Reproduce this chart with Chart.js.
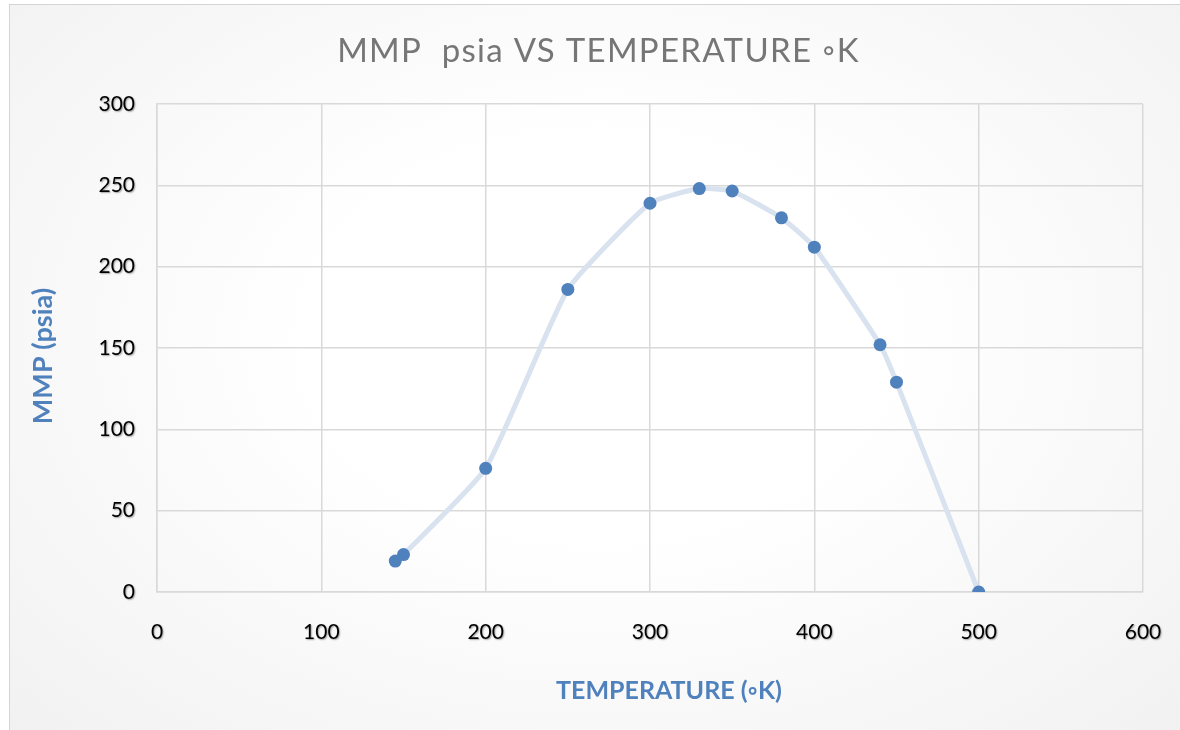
<!DOCTYPE html>
<html>
<head>
<meta charset="utf-8">
<script src="https://cdn.jsdelivr.net/npm/chart.js@4.4.1/dist/chart.umd.min.js"></script>
<style>
  html, body { margin: 0; padding: 0; background: #fff; }
  body { width: 1180px; height: 730px; position: relative; overflow: hidden; }
  #frame {
    position: absolute; left: 9px; top: 4px; width: 1180px; height: 740px;
    border: 1px solid #d4d4d4; box-sizing: border-box;
    background: radial-gradient(ellipse at 50% 45%, #ffffff 35%, #f1f1f1 100%);
  }
  #wrap { position: absolute; left: 0; top: 0; width: 1180px; height: 730px; }
</style>
</head>
<body>
<div id="frame"></div>
<div id="wrap"><canvas id="chart" width="1180" height="730"></canvas></div>
<script>
/* valeurs */
const temperatureK = [145, 150, 200, 250, 300, 330, 350, 380, 400, 440, 450, 500];
const mmpPsia = [19, 23, 76, 186, 239, 248, 246.5, 230, 212, 152, 129, 0];

const BLUE = '#4f81bd';
const GRID = '#d9d9d9';

// petits ajustements de rendu façon Excel : ombre des étiquettes,
// titres d'axes légèrement décalés, titre espacé
const excelLook = {
  id: 'excelLook',
  afterLayout(chart) {
    Object.values(chart.scales).forEach(s => {
      if (s._patched) return;
      const drawLabels = s.drawLabels.bind(s);
      const drawTitle = s.drawTitle.bind(s);
      s.drawLabels = function (area) {
        const ctx = this.ctx;
        ctx.save();
        ctx.shadowColor = 'rgba(0,0,0,.35)';
        ctx.shadowOffsetX = 1;
        ctx.shadowOffsetY = 1;
        ctx.shadowBlur = 1.5;
        drawLabels(area);
        ctx.restore();
      };
      s.drawTitle = function () {
        const ctx = this.ctx;
        ctx.save();
        if (this.axis === 'x') ctx.translate(19, 0);
        else ctx.translate(0, 8);
        drawTitle();
        ctx.restore();
      };
      s._patched = true;
    });
    const tb = chart.titleBlock;
    if (tb && !tb._patched) {
      const draw = tb.draw.bind(tb);
      tb.draw = function () {
        const ctx = this.ctx;
        ctx.save();
        ctx.letterSpacing = '1.3px';
        ctx.translate(17, 0);
        draw();
        ctx.restore();
      };
      tb._patched = true;
    }
  }
};

new Chart(document.getElementById('chart'), {
  type: 'scatter',
  data: {
    datasets: [{
      data: temperatureK.map((t, i) => ({ x: t, y: mmpPsia[i] })),
      showLine: true,
      tension: 0.15,
      borderColor: '#d9e2ef',
      borderWidth: 5,
      pointRadius: 6.5,
      pointHoverRadius: 6.5,
      pointBackgroundColor: BLUE,
      pointBorderColor: BLUE,
      pointBorderWidth: 0
    }]
  },
  options: {
    responsive: false,
    animation: false,
    layout: { padding: { left: 20, right: 37, top: 10, bottom: 20 } },
    plugins: {
      legend: { display: false },
      tooltip: { enabled: false },
      title: {
        display: true,
        text: 'MMP  psia VS TEMPERATURE \u25E6K',
        color: '#767676',
        font: { family: 'Lato', size: 33, weight: '400' },
        padding: { top: 21.5, bottom: 32.9 }
      }
    },
    scales: {
      x: {
        type: 'linear',
        min: 0, max: 600,
        afterFit: s => { s.height = 118; s.paddingLeft = 0; s.paddingRight = 0; },
        ticks: { stepSize: 100, color: '#000', padding: 28, font: { family: 'Lato', size: 21 } },
        grid: { color: GRID, lineWidth: 1.5, drawTicks: false },
        border: { color: GRID, width: 1.5 },
        title: {
          display: true, text: 'TEMPERATURE (\u25E6K)', color: BLUE,
          font: { family: 'Lato', size: 25, weight: 'bold' }, padding: { top: 0, bottom: 4 }
        }
      },
      y: {
        min: 0, max: 300,
        afterFit: s => { s.width = 137; },
        ticks: { stepSize: 50, color: '#000', padding: 22, font: { family: 'Lato', size: 21 } },
        grid: { color: GRID, lineWidth: 1.5, drawTicks: false },
        border: { color: GRID, width: 1.5 },
        title: {
          display: true, text: 'MMP (psia)', color: BLUE,
          font: { family: 'Lato', size: 27, weight: 'bold' }, padding: { top: 7, bottom: 0 }
        }
      }
    }
  },
  plugins: [excelLook]
});
</script>
</body>
</html>
